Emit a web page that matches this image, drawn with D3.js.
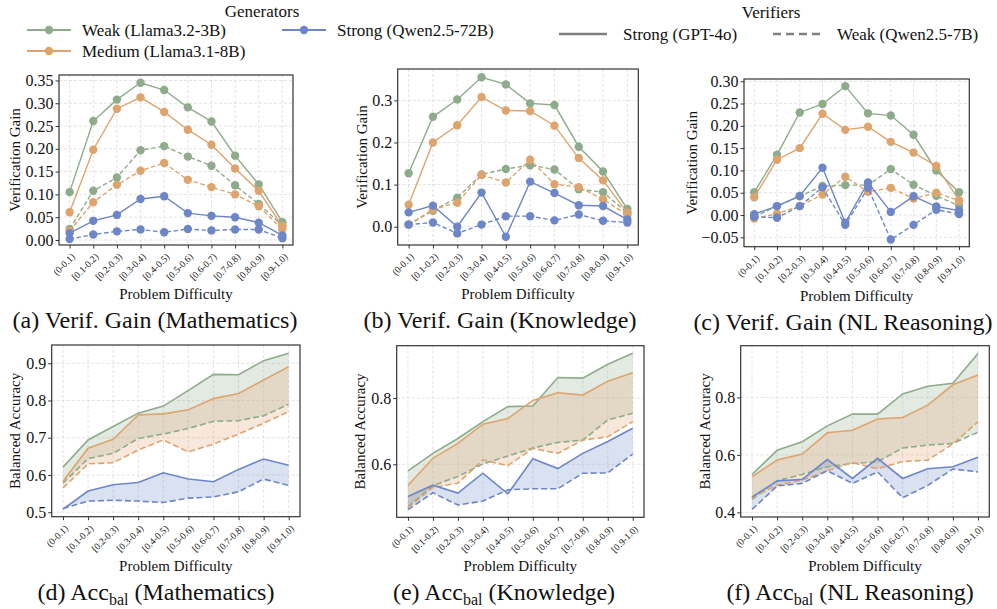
<!DOCTYPE html>
<html>
<head>
<meta charset="utf-8">
<script src="https://cdn.jsdelivr.net/npm/d3@7"></script>
<style>
	body { margin: 0; background: #fff; }
	svg text { font-family: "Liberation Serif", "Times New Roman", Times, serif !important; fill: #111; }
</style>
</head>
<body>
<div id="chart"></div>
<script>

///////////////////////////////////////////////////////////////////////////
///////////////////////////////// Data ////////////////////////////////////
///////////////////////////////////////////////////////////////////////////

var bins = ["(0-0.1)", "[0.1-0.2)", "[0.2-0.3)", "[0.3-0.4)", "[0.4-0.5)",
	"[0.5-0.6)", "[0.6-0.7)", "[0.7-0.8)", "[0.8-0.9)", "[0.9-1.0)"];

var generators = ["Weak (Llama3.2-3B)", "Medium (Llama3.1-8B)", "Strong (Qwen2.5-72B)"];
var verifiers = ["Strong (GPT-4o)", "Weak (Qwen2.5-7B)"];

//Verification gain - Mathematics (generator x verifier)
var gainMathWeakS   = [0.105, 0.261, 0.308, 0.345, 0.329, 0.291, 0.260, 0.185, 0.122, 0.039];
var gainMathWeakW   = [0.024, 0.108, 0.137, 0.197, 0.206, 0.183, 0.163, 0.120, 0.079, 0.032];
var gainMathMedS    = [0.061, 0.198, 0.288, 0.313, 0.281, 0.242, 0.209, 0.157, 0.108, 0.030];
var gainMathMedW    = [0.020, 0.083, 0.121, 0.152, 0.169, 0.132, 0.116, 0.100, 0.074, 0.023];
var gainMathStrS    = [0.015, 0.042, 0.055, 0.090, 0.096, 0.059, 0.053, 0.050, 0.038, 0.010];
var gainMathStrW    = [0.002, 0.012, 0.019, 0.023, 0.017, 0.024, 0.021, 0.023, 0.023, 0.004];

//Verification gain - Knowledge
var gainKnowWeakS   = [0.127, 0.261, 0.302, 0.355, 0.338, 0.293, 0.289, 0.190, 0.131, 0.042];
var gainKnowWeakW   = [0.005, 0.038, 0.069, 0.124, 0.137, 0.146, 0.136, 0.089, 0.082, 0.033];
var gainKnowMedS    = [0.052, 0.200, 0.241, 0.308, 0.276, 0.275, 0.240, 0.163, 0.110, 0.033];
var gainKnowMedW    = [0.005, 0.041, 0.057, 0.123, 0.105, 0.159, 0.101, 0.094, 0.065, 0.028];
var gainKnowStrS    = [0.034, 0.050, 0.000, 0.081, -0.024, 0.107, 0.080, 0.051, 0.049, 0.017];
var gainKnowStrW    = [0.005, 0.010, -0.016, 0.005, 0.025, 0.025, 0.015, 0.029, 0.014, 0.010];

//Verification gain - NL Reasoning
var gainNLWeakS     = [0.051, 0.135, 0.230, 0.249, 0.289, 0.228, 0.223, 0.180, 0.100, 0.051];
var gainNLWeakW     = [-0.004, 0.020, 0.042, 0.065, 0.067, 0.067, 0.103, 0.068, 0.043, 0.021];
var gainNLMedS      = [0.040, 0.124, 0.150, 0.227, 0.191, 0.198, 0.164, 0.140, 0.110, 0.033];
var gainNLMedW      = [-0.008, 0.003, 0.020, 0.046, 0.086, 0.052, 0.061, 0.037, 0.050, 0.032];
var gainNLStrS      = [0.002, 0.020, 0.043, 0.106, -0.017, 0.073, 0.007, 0.042, 0.019, 0.010];
var gainNLStrW      = [-0.004, -0.006, 0.020, 0.062, -0.022, 0.061, -0.055, -0.022, 0.012, 0.002];

//Balanced accuracy - Mathematics
var accMathWeakS    = [0.621, 0.694, 0.730, 0.766, 0.785, 0.827, 0.870, 0.869, 0.907, 0.927];
var accMathWeakW    = [0.578, 0.644, 0.658, 0.698, 0.710, 0.725, 0.744, 0.746, 0.759, 0.790];
var accMathMedS     = [0.583, 0.672, 0.696, 0.761, 0.764, 0.775, 0.805, 0.819, 0.855, 0.891];
var accMathMedW     = [0.565, 0.630, 0.633, 0.667, 0.694, 0.662, 0.683, 0.710, 0.739, 0.770];
var accMathStrS     = [0.508, 0.557, 0.574, 0.580, 0.606, 0.589, 0.582, 0.615, 0.643, 0.626];
var accMathStrW     = [0.510, 0.530, 0.532, 0.530, 0.526, 0.538, 0.541, 0.555, 0.589, 0.572];

//Balanced accuracy - Knowledge
var accKnowWeakS    = [0.580, 0.633, 0.678, 0.729, 0.774, 0.776, 0.862, 0.860, 0.902, 0.935];
var accKnowWeakW    = [0.472, 0.536, 0.563, 0.601, 0.625, 0.649, 0.666, 0.673, 0.734, 0.754];
var accKnowMedS     = [0.536, 0.618, 0.663, 0.721, 0.738, 0.793, 0.816, 0.809, 0.851, 0.876];
var accKnowMedW     = [0.469, 0.530, 0.543, 0.613, 0.596, 0.648, 0.633, 0.673, 0.683, 0.729];
var accKnowStrS     = [0.503, 0.537, 0.513, 0.573, 0.511, 0.617, 0.587, 0.633, 0.669, 0.709];
var accKnowStrW     = [0.463, 0.514, 0.477, 0.489, 0.523, 0.526, 0.526, 0.573, 0.574, 0.631];

//Balanced accuracy - NL Reasoning
var accNLWeakS      = [0.532, 0.616, 0.646, 0.701, 0.742, 0.742, 0.812, 0.839, 0.849, 0.953];
var accNLWeakW      = [0.445, 0.510, 0.532, 0.559, 0.570, 0.576, 0.624, 0.634, 0.640, 0.679];
var accNLMedS       = [0.524, 0.582, 0.603, 0.677, 0.686, 0.725, 0.730, 0.773, 0.844, 0.878];
var accNLMedW       = [0.451, 0.495, 0.512, 0.545, 0.573, 0.552, 0.577, 0.582, 0.638, 0.715];
var accNLStrS       = [0.454, 0.509, 0.515, 0.584, 0.518, 0.588, 0.518, 0.552, 0.559, 0.592];
var accNLStrW       = [0.410, 0.492, 0.501, 0.545, 0.501, 0.541, 0.451, 0.494, 0.551, 0.541];

var gainTicksMath = [0, 0.05, 0.10, 0.15, 0.20, 0.25, 0.30, 0.35];
var gainTicksKnow = [0, 0.1, 0.2, 0.3];
var gainTicksNL   = [-0.05, 0, 0.05, 0.10, 0.15, 0.20, 0.25, 0.30];
var accTicksMath  = [0.5, 0.6, 0.7, 0.8, 0.9];
var accTicksKnow  = [0.6, 0.8];
var accTicksNL    = [0.4, 0.6, 0.8];

///////////////////////////////////////////////////////////////////////////
//////////////////////////// Set up the SVG ///////////////////////////////
///////////////////////////////////////////////////////////////////////////

var width = 997,
	height = 609;

var serif = "Liberation Serif";
var colors = ["#8eab8c", "#dea46e", "#6c86c8"];

var svg = d3.select("#chart")
	.append("svg")
	.attr("width", width)
	.attr("height", height)
	.attr("font-family", serif);

//Panel frames and what goes in them
var panels = [
	{ box: [59, 293, 75, 245], dom: [-0.011, 0.362], ticks: gainTicksMath, fmt: ".2f", ylab: "Verification Gain", ylx: 15,
	  series: [[gainMathWeakS, gainMathWeakW], [gainMathMedS, gainMathMedW], [gainMathStrS, gainMathStrW]],
	  kind: "gain", title: ["(a) Verif. Gain (Mathematics)"], tx: 155 },
	{ box: [397.7, 638.3, 69, 245], dom: [-0.0435, 0.3746], ticks: gainTicksKnow, fmt: ".1f", ylab: "Verification Gain", ylx: 362,
	  series: [[gainKnowWeakS, gainKnowWeakW], [gainKnowMedS, gainKnowMedW], [gainKnowStrS, gainKnowStrW]],
	  kind: "gain", title: ["(b) Verif. Gain (Knowledge)"], tx: 500 },
	{ box: [744, 969.3, 79, 246.7], dom: [-0.071, 0.305], ticks: gainTicksNL, fmt: ".2f", ylab: "Verification Gain", ylx: 692,
	  series: [[gainNLWeakS, gainNLWeakW], [gainNLMedS, gainNLMedW], [gainNLStrS, gainNLStrW]],
	  kind: "gain", title: ["(c) Verif. Gain (NL Reasoning)"], tx: 843 },
	{ box: [51.7, 300, 345, 516.7], dom: [0.488, 0.949], ticks: accTicksMath, fmt: ".1f", ylab: "Balanced Accuracy", ylx: 15,
	  series: [[accMathWeakS, accMathWeakW], [accMathMedS, accMathMedW], [accMathStrS, accMathStrW]],
	  kind: "acc", title: ["(d) Acc", "bal", " (Mathematics)"], tx: 156 },
	{ box: [396.7, 644, 345.7, 517.3], dom: [0.44, 0.958], ticks: accTicksKnow, fmt: ".1f", ylab: "Balanced Accuracy", ylx: 360,
	  series: [[accKnowWeakS, accKnowWeakW], [accKnowMedS, accKnowMedW], [accKnowStrS, accKnowStrW]],
	  kind: "acc", title: ["(e) Acc", "bal", " (Knowledge)"], tx: 504 },
	{ box: [740.7, 989.3, 345.7, 517], dom: [0.384, 0.98], ticks: accTicksNL, fmt: ".1f", ylab: "Balanced Accuracy", ylx: 705,
	  series: [[accNLWeakS, accNLWeakW], [accNLMedS, accNLMedW], [accNLStrS, accNLStrW]],
	  kind: "acc", title: ["(f) Acc", "bal", " (NL Reasoning)"], tx: 850 }
];

///////////////////////////////////////////////////////////////////////////
/////////////////////////////// Draw panels ///////////////////////////////
///////////////////////////////////////////////////////////////////////////

panels.forEach(function(p) {
	var x0 = p.box[0], x1 = p.box[1], y0 = p.box[2], y1 = p.box[3];

	var x = d3.scalePoint().domain(bins).range([x0, x1]).padding(0.45);
	var y = d3.scaleLinear().domain(p.dom).range([y1, y0]);

	var g = svg.append("g");

	//Grid
	g.selectAll(".gx").data(bins).enter().append("line")
		.attr("x1", function(d) { return x(d); }).attr("x2", function(d) { return x(d); })
		.attr("y1", y0).attr("y2", y1)
		.style("stroke", "#dcdcdc").style("stroke-width", 0.8).style("stroke-dasharray", "3,2");
	g.selectAll(".gy").data(p.ticks).enter().append("line")
		.attr("x1", x0).attr("x2", x1)
		.attr("y1", function(d) { return y(d); }).attr("y2", function(d) { return y(d); })
		.style("stroke", "#dcdcdc").style("stroke-width", 0.8).style("stroke-dasharray", "3,2");

	//Shaded gap between strong and weak verifier
	if (p.kind === "acc") {
		p.series.forEach(function(s, gi) {
			var area = d3.area()
				.x(function(d, i) { return x(bins[i]); })
				.y0(function(d, i) { return y(s[1][i]); })
				.y1(function(d) { return y(d); });
			g.append("path")
				.attr("d", area(s[0]))
				.style("fill", colors[gi])
				.style("fill-opacity", 0.25);
		});
	}

	var line = d3.line()
		.x(function(d, i) { return x(bins[i]); })
		.y(function(d) { return y(d); });

	//Draw weak verifier (dashed) first, then strong
	[1, 0].forEach(function(vi) {
		p.series.forEach(function(s, gi) {
			g.append("path")
				.attr("d", line(s[vi]))
				.style("fill", "none")
				.style("stroke", colors[gi])
				.style("stroke-width", p.kind === "gain" ? 1.4 : 1.6)
				.style("stroke-dasharray", vi === 1 ? (p.kind === "gain" ? "4.5,2.5" : "6,3") : null);
			if (p.kind === "gain") {
				g.selectAll(null).data(s[vi]).enter().append("circle")
					.attr("cx", function(d, i) { return x(bins[i]); })
					.attr("cy", function(d) { return y(d); })
					.attr("r", 4.2)
					.style("fill", colors[gi]);
			}
		});
	});

	//Axes
	var yAxis = d3.axisLeft(y).tickValues(p.ticks).tickSize(3.5).tickPadding(2)
		.tickFormat(function(d) { return d3.format(p.fmt)(d).replace("-", "\u2212"); });
	var ya = g.append("g").attr("transform", "translate(" + x0 + ",0)").call(yAxis)
		.attr("font-family", serif);
	ya.select(".domain").remove();
	ya.selectAll("line").style("stroke", "#333");
	ya.selectAll("text").style("font-size", "16px").style("fill", "#111");

	var xAxis = d3.axisBottom(x).tickSize(3.5).tickPadding(2);
	var xa = g.append("g").attr("transform", "translate(0," + y1 + ")").call(xAxis)
		.attr("font-family", serif);
	xa.select(".domain").remove();
	xa.selectAll("line").style("stroke", "#333");
	xa.selectAll("text")
		.style("font-size", "9.5px").style("fill", "#111")
		.attr("text-anchor", "end")
		.attr("y", 0)
		.attr("dy", "0.35em")
		.attr("transform", "translate(3,10) rotate(-45)");

	//Frame
	g.append("rect")
		.attr("x", x0).attr("y", y0)
		.attr("width", x1 - x0).attr("height", y1 - y0)
		.style("fill", "none").style("stroke", "#333").style("stroke-width", 1.2);

	//Axis titles
	g.append("text")
		.attr("transform", "translate(" + p.ylx + "," + ((y0 + y1) / 2) + ") rotate(-90)")
		.attr("text-anchor", "middle")
		.attr("dy", "0.35em")
		.style("font-size", "15px")
		.text(p.ylab);

	g.append("text")
		.attr("x", (x0 + x1) / 2)
		.attr("y", y1 + 54)
		.attr("text-anchor", "middle")
		.style("font-size", "15px")
		.text("Problem Difficulty");

	//Subfigure caption
	var t = g.append("text")
		.attr("x", p.tx)
		.attr("y", y1 + 83)
		.attr("text-anchor", "middle")
		.style("font-size", "24px");
	t.append("tspan").text(p.title[0]);
	if (p.title.length > 1) {
		t.append("tspan").attr("dy", 5).style("font-size", "16px").text(p.title[1]);
		t.append("tspan").attr("dy", -5).text(p.title[2]);
	}
});

///////////////////////////////////////////////////////////////////////////
///////////////////////////////// Legend //////////////////////////////////
///////////////////////////////////////////////////////////////////////////

var legend = svg.append("g").attr("class", "legend");

legend.append("text").attr("x", 262).attr("y", 11).attr("dy", "0.35em").attr("text-anchor", "middle")
	.style("font-size", "17px").text("Generators");
legend.append("text").attr("x", 771).attr("y", 12).attr("dy", "0.35em").attr("text-anchor", "middle")
	.style("font-size", "17px").text("Verifiers");

var genPos = [[27, 30], [27, 51], [282, 30]];
generators.forEach(function(name, i) {
	var lx = genPos[i][0], ly = genPos[i][1];
	legend.append("line").attr("x1", lx).attr("x2", lx + 44).attr("y1", ly).attr("y2", ly)
		.style("stroke", colors[i]).style("stroke-width", 2.2);
	legend.append("circle").attr("cx", lx + 22).attr("cy", ly).attr("r", 4.2).style("fill", colors[i]);
	legend.append("text").attr("x", lx + 55).attr("y", ly).attr("dy", "0.35em")
		.style("font-size", "17px").text(name);
});

var verPos = [[559, 34], [773, 34]];
verifiers.forEach(function(name, i) {
	var lx = verPos[i][0], ly = verPos[i][1];
	legend.append("line").attr("x1", lx).attr("x2", lx + 48).attr("y1", ly).attr("y2", ly)
		.style("stroke", "#808080").style("stroke-width", 2.6)
		.style("stroke-dasharray", i === 1 ? "8,5" : null);
	legend.append("text").attr("x", lx + 64).attr("y", ly).attr("dy", "0.35em")
		.style("font-size", "17px").text(name);
});

</script>
</body>
</html>
